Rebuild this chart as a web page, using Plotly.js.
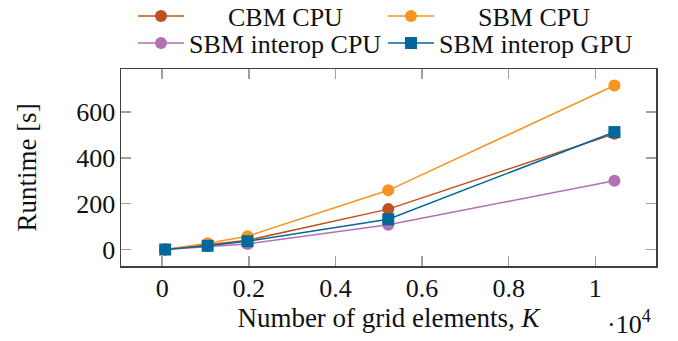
<!DOCTYPE html>
<html>
<head>
<meta charset="utf-8">
<script src="https://cdn.plot.ly/plotly-3.0.1.min.js"></script>
<style>html,body{margin:0;padding:0;background:#fff;}#chart{width:678px;height:341px;}</style>
</head>
<body>
<div id="chart"></div>
<script>
// Data
var gridElements = [70, 1050, 1970, 5220, 10440];
var cbmCpu = [0, 20, 40, 176, 505];
var sbmCpu = [0, 27, 58, 258, 715];
var sbmInteropCpu = [0, 14, 24, 108, 300];
var sbmInteropGpu = [0, 16, 36, 132, 512];
var seriesNames = ['CBM CPU', 'SBM CPU', 'SBM interop CPU', 'SBM interop GPU'];
var xTickVals = [0, 2000, 4000, 6000, 8000, 10000];
var xTickText = ['0', '0.2', '0.4', '0.6', '0.8', '1'];
var yTickVals = [0, 200, 400, 600];

var NB = '\u00A0';
function pad(n) { return new Array(n + 1).join(NB); }

var FONT = '"Liberation Serif", "Times New Roman", serif';
var colors = ['#c1501c', '#f7941e', '#b072b0', '#00689a'];

function tr(y, i, sym, legend, padN) {
  return {
    x: gridElements, y: y, type: 'scatter', mode: 'lines+markers',
    name: pad(padN) + seriesNames[i],
    legend: legend,
    line: {color: colors[i], width: 1.5},
    marker: {color: colors[i], size: 12, symbol: sym}
  };
}

var data = [
  tr(cbmCpu, 0, 'circle', 'legend', 6),
  tr(sbmCpu, 1, 'circle', 'legend', 6),
  tr(sbmInteropCpu, 2, 'circle', 'legend2', 0),
  tr(sbmInteropGpu, 3, 'square', 'legend2', 0)
];

var axisCommon = {
  showline: true, linecolor: '#404040', linewidth: 1.5, mirror: 'ticks',
  ticks: 'inside', ticklen: 10, tickwidth: 1.5, tickcolor: '#a0a0a0',
  showgrid: false, zeroline: false,
  tickfont: {family: FONT, size: 26, color: '#111'}
};

var legendCommon = {
  orientation: 'h', xref: 'container', yref: 'container',
  xanchor: 'left', yanchor: 'middle',
  font: {family: FONT, size: 26, color: '#111'},
  bgcolor: 'rgba(0,0,0,0)', borderwidth: 0,
  entrywidth: 189, entrywidthmode: 'pixels', itemwidth: 46,
  tracegroupgap: 0
};

var layout = {
  width: 678, height: 341,
  margin: {l: 121, r: 22, t: 69, b: 75, autoexpand: false},
  paper_bgcolor: '#fff', plot_bgcolor: '#fff',
  showlegend: true,
  font: {family: FONT, size: 26, color: '#111'},
  xaxis: Object.assign({}, axisCommon, {
    range: [-950, 11400], tickmode: 'array', tickvals: xTickVals, ticktext: xTickText,
    ticklabelstandoff: -2, automargin: false,
    title: {text: 'Number of grid elements, <i>K</i>', font: {family: FONT, size: 27, color: '#111'}, standoff: 6}
  }),
  yaxis: Object.assign({}, axisCommon, {
    range: [-72, 787], tickmode: 'array', tickvals: yTickVals,
    ticklabelstandoff: -1, automargin: false,
    title: {text: 'Runtime [s]', font: {family: FONT, size: 27, color: '#111'}, standoff: 32}
  }),
  legend: Object.assign({}, legendCommon, {x: 133 / 678, y: 1 - 16 / 341}),
  legend2: Object.assign({}, legendCommon, {x: 133 / 678, y: 1 - 43 / 341}),
  annotations: [{
    xref: 'paper', yref: 'paper', x: 0.994, y: -0.285, xanchor: 'right', yanchor: 'middle',
    text: '\u00B710<sup>4</sup>', showarrow: false,
    font: {family: FONT, size: 26, color: '#111'}
  }]
};

Plotly.newPlot('chart', data, layout, {displayModeBar: false, staticPlot: true});
</script>
</body>
</html>
